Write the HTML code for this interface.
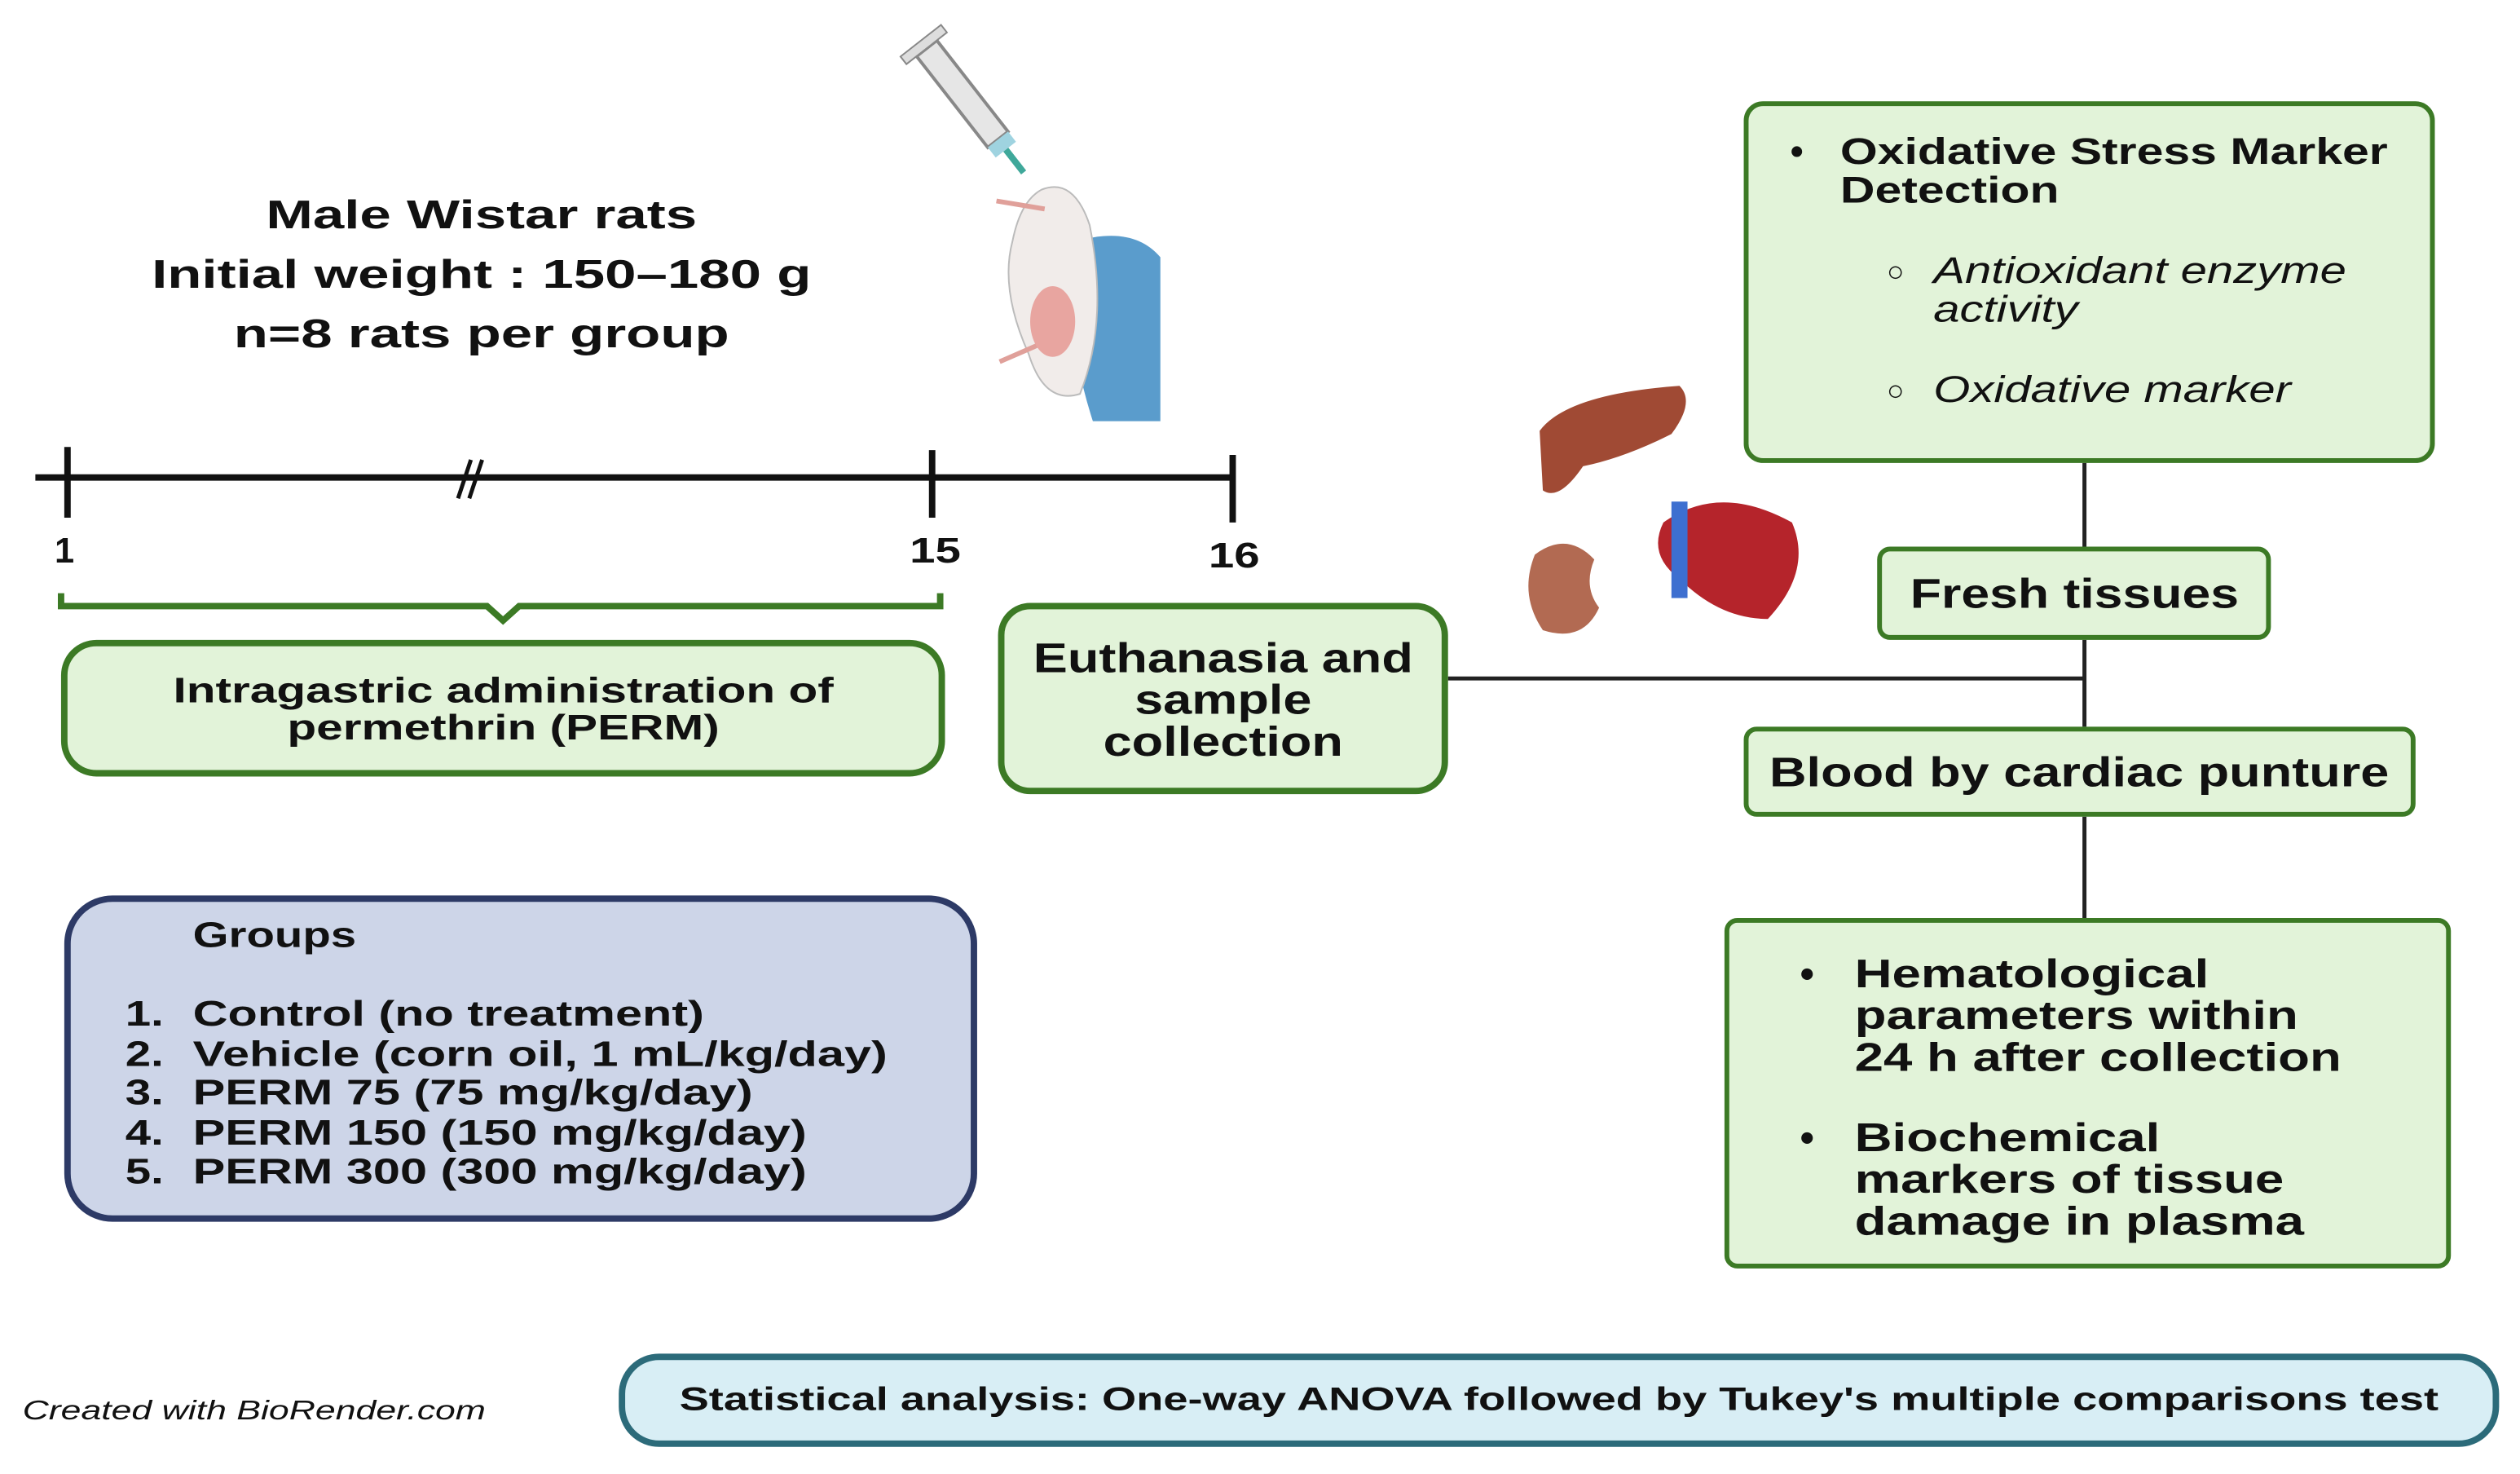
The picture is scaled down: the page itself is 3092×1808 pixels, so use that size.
<!DOCTYPE html>
<html><head><meta charset="utf-8"><style>
html,body{margin:0;padding:0;background:#fff;}
body{width:3092px;height:1808px;overflow:hidden;position:relative;}
#w{position:absolute;left:0;top:0;width:1568px;height:917px;transform:scale(1.97194);transform-origin:0 0;font-family:"Liberation Sans",sans-serif;font-weight:bold;color:#111;}
.a{position:absolute;white-space:nowrap;}
.g{position:absolute;background:#e2f3d9;border:3px solid #3c7a25;box-sizing:border-box;}
.c{display:flex;align-items:center;justify-content:center;text-align:center;}
.s{display:inline-block;transform-origin:center;}
.l{transform-origin:0 0;}
</style></head><body><div id="w">
<div class="a c" style="left:0px;top:116px;width:600px;font-size:25px;line-height:37px;"><span class="s" style="transform:scaleX(1.4)">Male Wistar rats<br>Initial weight : 150–180 g<br>n=8 rats per group</span></div>

<svg class="a" style="left:0;top:0" width="1568" height="917">
<g stroke="#111" stroke-width="4" fill="none">
<line x1="22" y1="297" x2="768" y2="297"/>
<line x1="42" y1="278" x2="42" y2="322"/>
<line x1="580" y1="280" x2="580" y2="322"/>
<line x1="767" y1="283" x2="767" y2="325"/>
<line x1="285" y1="310" x2="293" y2="286" stroke-width="2.5"/>
<line x1="292" y1="310" x2="300" y2="286" stroke-width="2.5"/>
</g>
<path d="M38 369 V377 H303 L313 386 L323 377 H585 V369" stroke="#3c7a25" stroke-width="4" fill="none"/>
<g stroke="#222" stroke-width="2.5">
<line x1="901" y1="422" x2="1297" y2="422"/>
<line x1="1297" y1="288" x2="1297" y2="340"/>
<line x1="1297" y1="398" x2="1297" y2="452"/>
<line x1="1297" y1="508" x2="1297" y2="571"/>
</g>
<g transform="rotate(-38 600 60)">
<rect x="592" y="22" width="16" height="72" fill="#e6e6e6" stroke="#888" stroke-width="2"/>
<rect x="584" y="16" width="32" height="6" fill="#ddd" stroke="#888"/>
<rect x="592" y="94" width="16" height="8" fill="#9fd3e0"/>
<rect x="598" y="102" width="4" height="18" fill="#3fa89a"/>
</g>
<path d="M670 150 Q705 140 722 160 V262 H680 Q660 200 670 150Z" fill="#5a9ccc"/>
<path d="M648 118 Q668 110 678 140 Q690 200 672 245 Q650 252 640 220 Q622 180 630 150 Q635 125 648 118Z" fill="#f1ecea" stroke="#bbb"/>
<path d="M620 125 L650 130 M622 225 L645 215" stroke="#e0a09a" stroke-width="3"/>
<ellipse cx="655" cy="200" rx="14" ry="22" fill="#e8a5a0"/>
<path d="M958 268 Q975 245 1045 240 Q1055 250 1040 270 Q1010 285 985 290 Q970 312 960 305Z" fill="#a04a34"/>
<path d="M955 345 Q975 330 992 348 Q985 365 995 378 Q985 400 960 392 Q945 370 955 345Z" fill="#b26a52"/>
<path d="M1035 325 Q1070 300 1115 325 Q1128 355 1100 385 Q1070 385 1045 360 Q1025 345 1035 325Z" fill="#b5242b"/>
<rect x="1040" y="312" width="10" height="60" fill="#3d6fd0"/>
</svg>

<div class="a" style="left:34px;top:330px;font-size:22px;">1</div>
<div class="a" style="left:566px;top:330px;font-size:22px;"><span class="s l" style="transform:scaleX(1.3)">15</span></div>
<div class="a" style="left:752px;top:333px;font-size:22px;"><span class="s l" style="transform:scaleX(1.3)">16</span></div>

<div class="g c" style="left:38px;top:398px;width:550px;height:85px;border-width:4px;border-radius:22px;font-size:22px;line-height:23px;"><span class="s" style="transform:scaleX(1.35)">Intragastric administration of<br>permethrin (PERM)</span></div>
<div class="g c" style="left:621px;top:375px;width:280px;height:119px;border-width:4px;border-radius:20px;font-size:26px;line-height:26px;"><span class="s" style="transform:scaleX(1.23)">Euthanasia and<br>sample<br>collection</span></div>

<div class="g" style="left:1085px;top:63px;width:430px;height:225px;border-radius:12px;font-size:23px;line-height:24px;">
<div class="a" style="left:26px;top:16px;">•</div>
<div class="a" style="left:57px;top:16px;"><span class="s l" style="transform:scaleX(1.3)">Oxidative Stress Marker<br>Detection</span></div>
<div class="a" style="left:86px;top:91px;font-weight:normal;font-size:18px;">○</div>
<div class="a" style="left:115px;top:90px;font-weight:normal;font-style:italic;"><span class="s l" style="transform:scaleX(1.28)">Antioxidant enzyme<br>activity</span></div>
<div class="a" style="left:86px;top:165px;font-weight:normal;font-size:18px;">○</div>
<div class="a" style="left:115px;top:164px;font-weight:normal;font-style:italic;"><span class="s l" style="transform:scaleX(1.28)">Oxidative marker</span></div>
</div>
<div class="g c" style="left:1168px;top:340px;width:245px;height:58px;border-radius:8px;font-size:26px;"><span class="s" style="transform:scaleX(1.22)">Fresh tissues</span></div>
<div class="g c" style="left:1085px;top:452px;width:418px;height:56px;border-radius:8px;font-size:26px;"><span class="s" style="transform:scaleX(1.23)">Blood by cardiac punture</span></div>
<div class="g" style="left:1073px;top:571px;width:452px;height:218px;border-radius:8px;font-size:25px;line-height:26px;">
<div class="a" style="left:44px;top:19px;">•</div>
<div class="a" style="left:78px;top:19px;"><span class="s l" style="transform:scaleX(1.29)">Hematological<br>parameters within<br>24 h after collection</span></div>
<div class="a" style="left:44px;top:121px;">•</div>
<div class="a" style="left:78px;top:121px;"><span class="s l" style="transform:scaleX(1.29)">Biochemical<br>markers of tissue<br>damage in plasma</span></div>
</div>

<div class="a" style="left:40px;top:557px;width:568px;height:203px;background:#cdd5e8;border:4px solid #2d3a66;box-sizing:border-box;border-radius:30px;font-size:22px;line-height:24.5px;">
<div class="a" style="left:76px;top:9px;"><span class="s l" style="transform:scaleX(1.3)">Groups</span></div>
<div class="a" style="left:34px;top:58px;"><span class="s l" style="transform:scaleX(1.3)">1.<br>2.<br>3.<br>4.<br>5.</span></div>
<div class="a" style="left:76px;top:58px;"><span class="s l" style="transform:scaleX(1.37)">Control (no treatment)<br>Vehicle (corn oil, 1 mL/kg/day)<br>PERM 75 (75 mg/kg/day)<br>PERM 150 (150 mg/kg/day)<br>PERM 300 (300 mg/kg/day)</span></div>
</div>

<div class="a c" style="left:385px;top:842px;width:1170px;height:58px;background:#d8eef5;border:4px solid #2c6b7a;box-sizing:border-box;border-radius:25px;font-size:20px;"><span class="s" style="transform:scaleX(1.375)">Statistical analysis: One-way ANOVA followed by Tukey's multiple comparisons test</span></div>
<div class="a" style="left:14px;top:868px;font-size:17px;font-weight:normal;font-style:italic;"><span class="s l" style="transform:scaleX(1.33)">Created with BioRender.com</span></div>
</div></body></html>
